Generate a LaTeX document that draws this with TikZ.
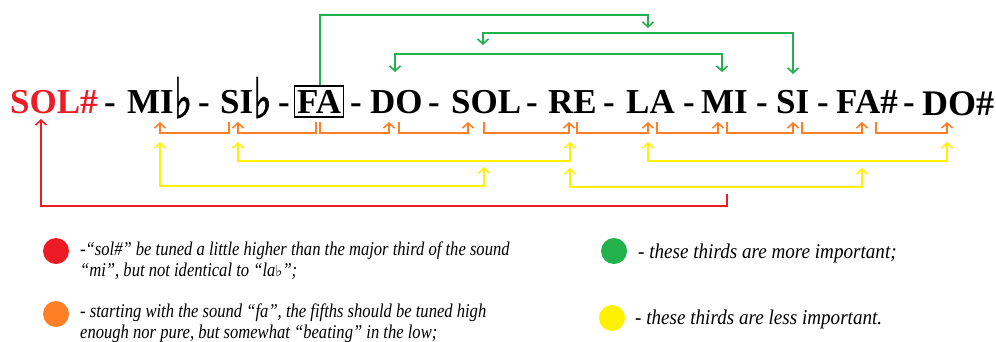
\documentclass[tikz,border=0pt]{standalone}
\usepackage{fontspec}
\setmainfont{Liberation Serif}
\newfontfamily\notef{Liberation Serif}
\newfontfamily\symf[FakeBold=1.6]{DejaVu Sans}
\newfontfamily\symg{DejaVu Sans}
\newfontfamily\legf[FakeStretch=0.85]{Liberation Serif}
\newfontfamily\legg[FakeStretch=0.91]{Liberation Serif}
\usetikzlibrary{arrows.meta}
\definecolor{cred}{HTML}{ED1C24}
\definecolor{corange}{HTML}{FF7F27}
\definecolor{cgreen}{HTML}{22B14C}
\definecolor{cyellow}{HTML}{FFF200}
\newcommand{\myflat}{{\symf\fontsize{56}{56}\selectfont\raisebox{-5pt}{\scalebox{0.7}[1]{♭}}}}
\newcommand{\smflat}{{\symg\fontsize{15}{15}\selectfont ♭}}
\begin{document}
\begin{tikzpicture}[x=1pt,y=-1pt,
  note/.style={anchor=base west,inner sep=0pt,font=\notef\fontsize{35}{35}\selectfont\bfseries},
  sep/.style={anchor=base,inner sep=0pt,font=\notef\fontsize{35}{35}\selectfont\bfseries},
  conn/.style={line width=1.6pt},
  tipe/.style={-{Straight Barb[length=5pt,width=11pt,line width=1.6pt]}},
  tipb/.style={{Straight Barb[length=5pt,width=11pt,line width=1.6pt]}-{Straight Barb[length=5pt,width=11pt,line width=1.6pt]}},
  tips/.style={{Straight Barb[length=5pt,width=11pt,line width=1.6pt]}-},
  legtext/.style={anchor=base west,inner sep=0pt,align=left,font=\legf\itshape\fontsize{19.5}{21}\selectfont},
  legtextr/.style={anchor=base west,inner sep=0pt,align=left,font=\legg\itshape\fontsize{21}{22}\selectfont},
  dot/.style={circle,inner sep=0pt,minimum size=26pt}
]
\useasboundingbox (0,0) rectangle (996,341);

% notes
\node[note,text=cred] (solsharp) at (10,113) {SOL\#};
\node[sep] (s1) at (110,113) {-};
\node[note] (mib) at (127,113) {MI\myflat};
\node[sep] (s2) at (204,113) {-};
\node[note] (sib) at (220,113) {SI\myflat};
\node[sep] (s3) at (284,113) {-};
\node[note,draw,line width=1.3pt,inner xsep=2.5pt,inner ysep=4pt] (fa) at (294,113) {FA};
\node[sep] (s4) at (356,113) {-};
\node[note] (do) at (370,113) {DO};
\node[sep] (s5) at (434,113) {-};
\node[note] (sol) at (451,113) {SOL};
\node[sep] (s6) at (532,113) {-};
\node[note] (re) at (548,113) {RE};
\node[sep] (s7) at (609,113) {-};
\node[note] (la) at (626,113) {LA};
\node[sep] (s8) at (689,113) {-};
\node[note] (mi) at (701,113) {MI};
\node[sep] (s9) at (762,113) {-};
\node[note] (si) at (776,113) {SI};
\node[sep] (s10) at (823,113) {-};
\node[note] (fasharp) at (836,113) {FA\#};
\node[sep] (s11) at (909,113) {-};
\node[note,font=\notef\fontsize{36}{36}\selectfont\bfseries] (dosharp) at (922,115) {DO\#};

% attachment coordinates
\coordinate (solsharpB) at (41,119);
\coordinate (mibB) at (160,122);
\coordinate (sibB1) at (229,122);
\coordinate (sibB2) at (238,122);
\coordinate (faB1) at (316,122);
\coordinate (faB2) at (320,122);
\coordinate (doB1) at (389,122);
\coordinate (doB2) at (399,122);
\coordinate (solB1) at (468,122);
\coordinate (solB2) at (484,122);
\coordinate (reB1) at (569,122);
\coordinate (reB2) at (577,122);
\coordinate (laB1) at (648,122);
\coordinate (laB2) at (657,122);
\coordinate (miB1) at (718,122);
\coordinate (miB2) at (727,122);
\coordinate (siB1) at (793,122);
\coordinate (siB2) at (802,122);
\coordinate (fasB1) at (862,122);
\coordinate (fasB2) at (876,122);
\coordinate (dosB) at (947,122);

% orange: fifths
\begin{scope}[conn,draw=corange]
\draw[tipe] (sibB1) -- ++(0,11) -| (mibB);
\draw[tipe] (faB1) -- ++(0,11) -| (sibB2);
\draw[tipe] (faB2) -- ++(0,11) -| (doB1);
\draw[tipe] (doB2) -- ++(0,11) -| (solB1);
\draw[tipe] (solB2) -- ++(0,11) -| (reB1);
\draw[tipe] (reB2) -- ++(0,11) -| (laB1);
\draw[tipe] (laB2) -- ++(0,11) -| (miB1);
\draw[tipe] (miB2) -- ++(0,11) -| (siB1);
\draw[tipe] (siB2) -- ++(0,11) -| (fasB1);
\draw[tipe] (fasB2) -- ++(0,11) -| (dosB);
\end{scope}

% yellow: less important thirds
\coordinate (y1a) at (238,142); \coordinate (y1b) at (570,142);
\coordinate (y2a) at (648,142); \coordinate (y2b) at (947,142);
\coordinate (y3a) at (160,142); \coordinate (y3b) at (484,167);
\coordinate (y4a) at (570,168); \coordinate (y4b) at (862,168);
\begin{scope}[conn,draw=cyellow]
\draw[tipb] (y1a) |- (404,161) -| (y1b);
\draw[tipb] (y2a) |- (800,161) -| (y2b);
\draw[tipb] (y3a) |- (320,186) -| (y3b);
\draw[tipb] (y4a) |- (700,187) -| (y4b);
\end{scope}

% red
\coordinate (miR) at (727,194);
\draw[conn,draw=cred,tips] (solsharpB) |- (400,206) -| (miR);

% green: more important thirds
\coordinate (faT) at (320,85);
\coordinate (laT) at (648,28);
\coordinate (solT) at (483,45);
\coordinate (siT) at (793,74);
\coordinate (doT) at (395,72);
\coordinate (miT) at (722,72);
\begin{scope}[conn,draw=cgreen]
\draw[tipe] (faT) |- (480,15) -| (laT);
\draw[tipb] (solT) |- (640,33) -| (siT);
\draw[tipb] (doT) |- (560,54) -| (miT);
\end{scope}

% legend
\node[dot,fill=cred] (dred) at (56,251) {};
\node[legtext] (lred) at (80,276) {-“sol\#” be tuned a little higher than the major third of the sound\\“mi”, but not identical to “la\smflat”;};
\node[dot,fill=corange] (dorange) at (56,314) {};
\node[legtext] (lorange) at (80,338) {- starting with the sound “fa”, the fifths should be tuned high\\enough nor pure, but somewhat “beating” in the low;};
\node[dot,fill=cgreen] (dgreen) at (614,251) {};
\node[legtextr] (lgreen) at (638,258) {- these thirds are more important;};
\node[dot,fill=cyellow] (dyellow) at (612,318) {};
\node[legtextr] (lyellow) at (635,324) {- these thirds are less important.};
\end{tikzpicture}
\end{document}
